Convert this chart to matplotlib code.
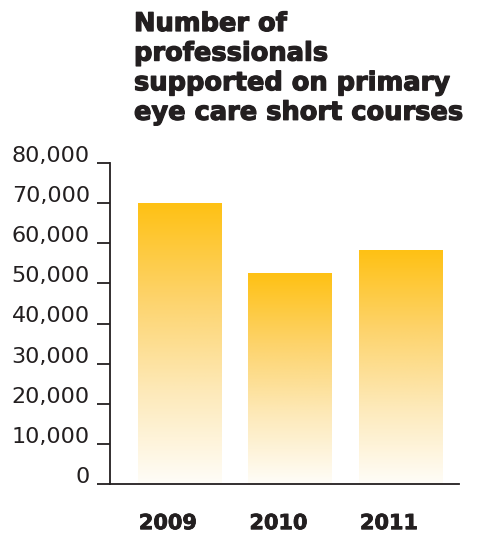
import numpy as np
import matplotlib
matplotlib.use("Agg")
import matplotlib.pyplot as plt
import matplotlib.patheffects as pe
from matplotlib.colors import LinearSegmentedColormap
from matplotlib.transforms import ScaledTranslation

years = ['2009', '2010', '2011']
values = [70000, 52400, 58300]
yticks = [0, 10000, 20000, 30000, 40000, 50000, 60000, 70000, 80000]
ytick_labels = ['0', '10,000', '20,000', '30,000', '40,000', '50,000', '60,000', '70,000', '80,000']
title = "Number of\nprofessionals\nsupported on primary\neye care short courses"

dark = '#231f20'
plt.rcParams['font.family'] = ['DejaVu Sans']

fig = plt.figure(figsize=(4.85, 5.34), dpi=100)
ax = fig.add_axes([110/485, 1 - 484/534, 349/485, (484 - 163)/534])

# gradient: strong yellow at top of each bar, fading to white at the bottom
cmap = LinearSegmentedColormap.from_list('fade', ['#fffdf8', '#fde9b8', '#fdd36a', '#ffc114'])
grad = np.linspace(0, 1, 256).reshape(-1, 1)
width = 0.76
for i, v in enumerate(values):
    ax.imshow(grad, cmap=cmap, origin='lower', aspect='auto',
              extent=[i - width/2, i + width/2, 0, v], zorder=1)

ax.set_xlim(-0.633, 2.525)
ax.set_ylim(0, 80000)

for s in ['top', 'right']:
    ax.spines[s].set_visible(False)
for s in ['left', 'bottom']:
    ax.spines[s].set_color(dark)
    ax.spines[s].set_linewidth(1.3)

ax.set_yticks(yticks)
ax.set_yticklabels(ytick_labels, fontsize=16, color=dark)
ax.tick_params(axis='y', length=9.5, width=1.3, color=dark, pad=5)
for lab in ax.get_yticklabels():
    lab.set_verticalalignment('baseline')
    lab.set_transform(lab.get_transform() + ScaledTranslation(0, 1/100, fig.dpi_scale_trans))

ax.set_xticks(range(len(years)))
ax.set_xticklabels(years, fontsize=15, fontweight='bold', color=dark)
ax.tick_params(axis='x', length=0, pad=21)
for lab in ax.get_xticklabels():
    lab.set_transform(lab.get_transform() + ScaledTranslation(-12/100, 0, fig.dpi_scale_trans))
    lab.set_path_effects([pe.withStroke(linewidth=0.6, foreground=dark)])

fig.text(134/485, 1 - 11/534, title, fontsize=18.5, fontweight='bold', color=dark,
         ha='left', va='top', linespacing=1.18,
         path_effects=[pe.withStroke(linewidth=0.9, foreground=dark)])

fig.savefig('out.png', dpi=100)
